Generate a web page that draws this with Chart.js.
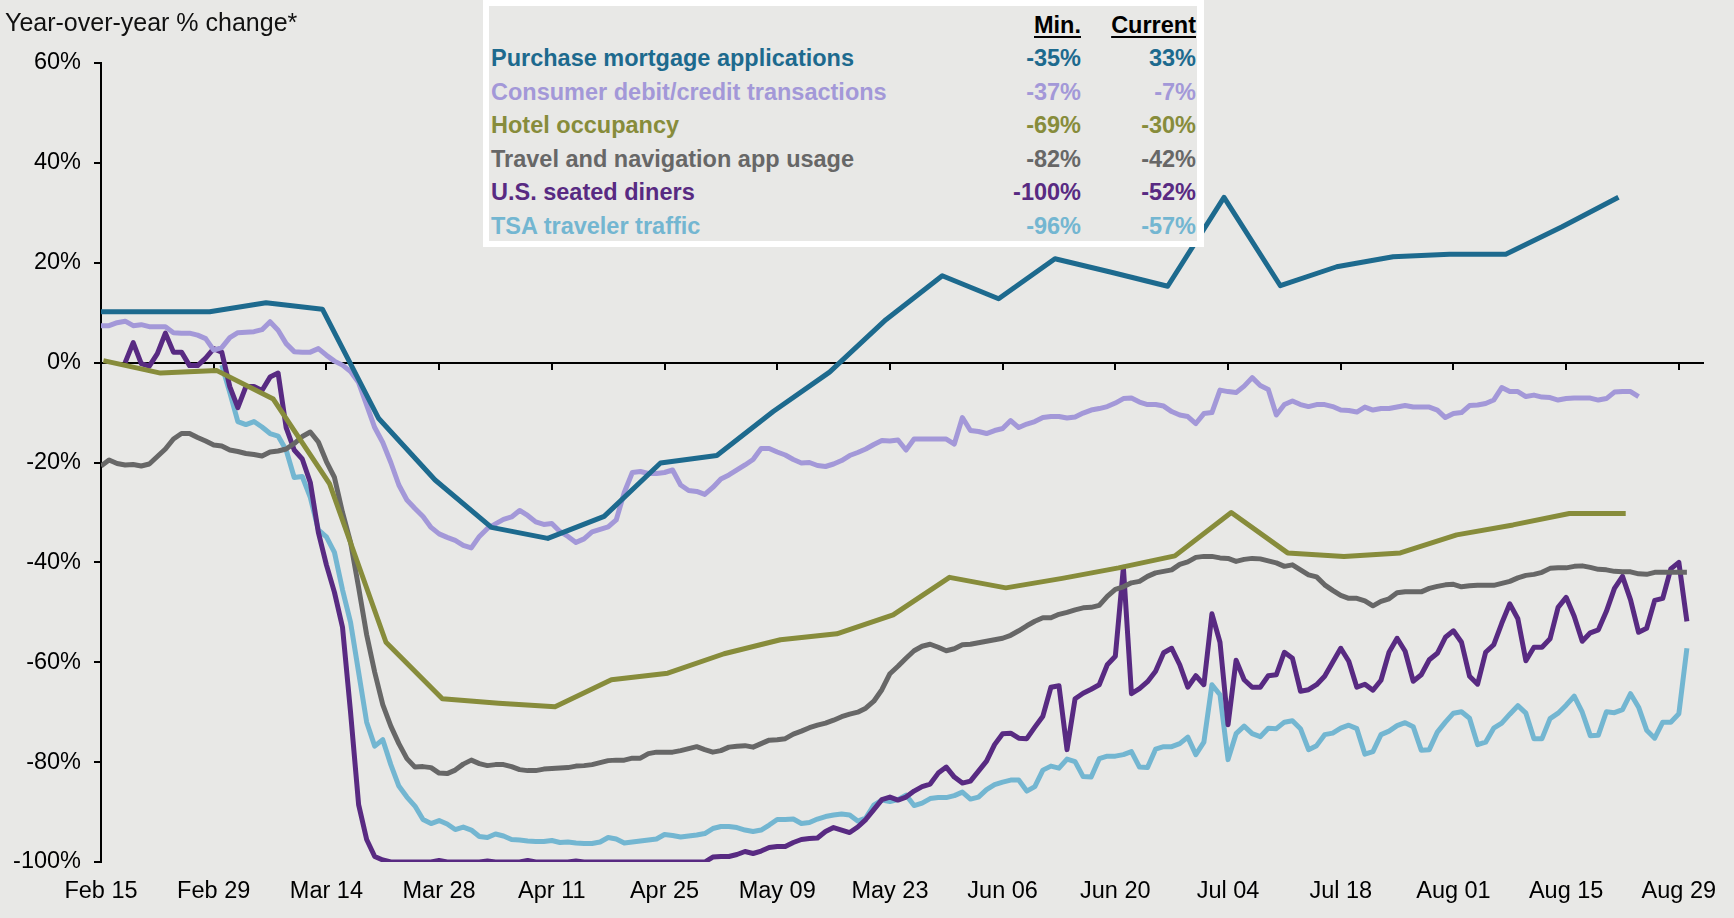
<!DOCTYPE html>
<html>
<head>
<meta charset="utf-8">
<script src="https://cdn.jsdelivr.net/npm/chart.js@4.4.1/dist/chart.umd.min.js"></script>
<style>
  html, body { margin: 0; padding: 0; background: #e8e8e6; }
  #wrap { position: relative; width: 1734px; height: 918px; overflow: hidden; }
  #chart { position: absolute; left: 0; top: 0; }
  #title { position: absolute; left: 5px; top: 8px; font: 25px 'Liberation Sans', Arial, sans-serif; color: #111; white-space: nowrap; }
  #legend { position: absolute; left: 483px; top: 0; width: 708px; height: 235px; border: 6px solid #fff; border-right-width: 7px; background: #e8e8e6; }
  .cell { position: absolute; height: 30px; line-height: 30px; font: bold 23.5px 'Liberation Sans', Arial, sans-serif; white-space: nowrap; }
  .num { text-align: right; width: 140px; }
  .head { color: #000; text-decoration: underline; text-decoration-thickness: 2px; text-underline-offset: 3px; }
</style>
</head>
<body>
<div id="wrap">
  <canvas id="chart" width="1734" height="918"></canvas>
  <div id="title">Year-over-year % change*</div>
  <div id="legend"></div>
</div>
<script>
// axis labels, every 14 days starting Feb 15
var tickLabels = ['Feb 15', 'Feb 29', 'Mar 14', 'Mar 28', 'Apr 11', 'Apr 25', 'May 09', 'May 23',
                  'Jun 06', 'Jun 20', 'Jul 04', 'Jul 18', 'Aug 01', 'Aug 15', 'Aug 29'];

var seriesNames = ['Purchase mortgage applications', 'Consumer debit/credit transactions', 'Hotel occupancy',
                   'Travel and navigation app usage', 'U.S. seated diners', 'TSA traveler traffic'];
var seriesColors = ['#1d6a8e', '#a398d8', '#878c3b', '#676767', '#582a82', '#73b6d1'];
var minLabels = ['-35%', '-37%', '-69%', '-82%', '-100%', '-96%'];
var currentLabels = ['33%', '-7%', '-30%', '-42%', '-52%', '-57%'];

// weekly series: x = days after Feb 15
var mortgageDays = [0, 6.5, 13.5, 20.5, 27.5, 34.5, 41.5, 48.5, 55.5, 62.5, 69.5, 76.5, 83.5, 90.5,
                    97.5, 104.5, 111.5, 118.5, 125.5, 132.5, 139.5, 146.5, 153.5, 160.5, 167.5, 174.5, 181.5, 188.5];
var mortgageVals = [10.2, 10.2, 10.2, 12.0, 10.7, -11.2, -23.5, -33, -35.2, -30.8, -20.1, -18.6, -9.8, -1.9,
                    8.6, 17.4, 12.8, 20.8, 18.1, 15.3, 33.1, 15.4, 19.2, 21.2, 21.7, 21.7, 27.2, 33.1];

var hotelDays = [0.3, 7.4, 14.4, 21.4, 28.4, 35.4, 42.4, 49.4, 56.4, 63.4, 70.4, 77.4, 84.4, 91.4,
                 98.4, 105.4, 112.4, 119.4, 126.4, 133.4, 140.4, 147.4, 154.4, 161.4, 168.4, 175.4, 182.4, 189.4];
var hotelVals = [0.4, -2.1, -1.6, -7.3, -24.3, -56, -67.3, -68.2, -68.9, -63.5, -62.2, -58.3, -55.5, -54.3,
                 -50.5, -43, -45.1, -43.2, -41.1, -38.7, -30.0, -38.1, -38.8, -38.1, -34.5, -32.5, -30.2, -30.2];

// daily series, first value at the start day
var consumerStart = 0;
var consumerVals = [
  7.4, 7.4, 8.0, 8.3, 7.4, 7.6, 7.2, 7.2, 7.2, 6.0,
  5.9, 5.9, 5.5, 4.8, 2.5, 3.0, 5.0, 6.0, 6.1, 6.2,
  6.6, 8.2, 6.5, 3.8, 2.2, 2.1, 2.1, 2.8, 1.5, 0.3,
  -0.5, -1.8, -4.0, -8.5, -13, -16, -20, -24.5, -27.5, -29.2,
  -30.8, -33, -34.3, -35, -35.6, -36.6, -37.1, -34.8, -33.2, -32.3,
  -31.4, -30.9, -29.6, -30.6, -31.9, -32.4, -32.2, -33.8, -34.8, -36.0,
  -35.3, -33.9, -33.4, -32.9, -31.5, -26, -22, -21.8, -22.2, -22.2,
  -22, -21.5, -24.5, -25.6, -25.8, -26.4, -25, -23.3, -22.5, -21.5,
  -20.5, -19.4, -17.2, -17.2, -17.9, -18.5, -19.4, -20.1, -20, -20.6,
  -20.8, -20.3, -19.6, -18.6, -18, -17.3, -16.4, -15.6, -15.7, -15.5,
  -17.5, -15.3, -15.3, -15.3, -15.3, -15.3, -16.3, -11, -13.6, -13.8,
  -14.2, -13.6, -13.2, -11.6, -13, -12.3, -11.8, -11, -10.8, -10.8,
  -11.1, -10.9, -10.1, -9.5, -9.2, -8.8, -8.1, -7.2, -7.1, -7.9,
  -8.4, -8.4, -8.7, -9.8, -10.5, -10.8, -12.2, -10.2, -10, -5.5,
  -5.8, -6, -4.7, -3, -4.6, -5.4, -10.5, -8.4, -7.7, -8.4,
  -8.8, -8.4, -8.4, -8.8, -9.5, -9.6, -9.9, -8.9, -9.5, -9.2,
  -9.2, -8.9, -8.6, -8.9, -8.9, -8.9, -9.5, -11, -10.2, -10,
  -8.6, -8.5, -8.2, -7.5, -5, -5.8, -5.8, -6.8, -6.5, -6.9,
  -7, -7.5, -7.2, -7.1, -7.1, -7.1, -7.5, -7.2, -5.9, -5.8,
  -5.8, -6.8
];

var travelStart = 0;
var travelVals = [
  -20.7, -19.5, -20.2, -20.5, -20.4, -20.7, -20.3, -18.8, -17.3, -15.3,
  -14.2, -14.2, -15, -15.7, -16.5, -16.7, -17.5, -17.8, -18.2, -18.4,
  -18.7, -17.9, -17.7, -17.3, -16.2, -14.8, -13.9, -15.9, -19.8, -23,
  -30, -36, -45, -54.5, -62, -68.5, -72.8, -76.3, -79.3, -81,
  -80.9, -81.1, -82.2, -82.3, -81.6, -80.4, -79.6, -80.3, -80.7, -80.5,
  -80.5, -80.9, -81.5, -81.7, -81.7, -81.4, -81.3, -81.2, -81.1, -80.8,
  -80.7, -80.5, -80.1, -79.7, -79.6, -79.6, -79.2, -79.2, -78.3, -78,
  -78, -78, -77.7, -77.3, -76.9, -77.5, -78, -77.7, -77, -76.8,
  -76.7, -77, -76.3, -75.6, -75.5, -75.3, -74.4, -73.8, -73.1, -72.6,
  -72.2, -71.6, -70.9, -70.4, -70, -69.2, -67.8, -65.5, -62.3, -60.8,
  -59.2, -57.7, -56.8, -56.4, -57, -57.7, -57.3, -56.5, -56.4, -56.1,
  -55.8, -55.5, -55.2, -54.6, -53.7, -52.7, -51.8, -51.1, -51.1, -50.4,
  -50, -49.5, -49.1, -49, -48.6, -46.8, -45.4, -44.9, -44.1, -43.8,
  -42.8, -42.1, -41.8, -41.5, -40.4, -39.9, -39, -38.8, -38.8, -39.1,
  -39.2, -39.8, -39.4, -39.2, -39.3, -39.7, -40.1, -40.8, -40.5, -41.5,
  -42.5, -42.9, -44.5, -45.6, -46.6, -47.2, -47.2, -47.7, -48.7, -47.8,
  -47.3, -46.1, -45.9, -45.9, -45.9, -45.2, -44.8, -44.5, -44.4, -44.9,
  -44.7, -44.6, -44.6, -44.6, -44.2, -43.8, -43.1, -42.6, -42.4, -42,
  -41.2, -41.1, -41.1, -40.8, -40.7, -41, -41.4, -41.5, -41.8, -41.9,
  -41.9, -42.3, -42.4, -42, -42, -42, -42, -42
];

var dinersStart = 3;
var dinersVals = [
  0, 4, -0.2, -0.7, 1.8, 5.9, 2.1, 2.1, -0.6, -0.6,
  0.9, 2.8, 2.1, -4.8, -9, -4.8, -4.8, -5.6, -2.9, -2.1,
  -13, -17.5, -19.3, -24, -34, -40.5, -46, -53, -70, -88.5,
  -95.5, -98.9, -99.6, -100, -100, -100, -100, -100, -100, -99.7,
  -100, -100, -100, -100, -100, -99.8, -100, -100, -100, -100,
  -99.7, -100, -100, -100, -100, -100, -99.8, -100, -100, -100,
  -100, -100, -100, -100, -100, -100, -100, -100, -100, -100,
  -100, -100, -100, -99, -98.9, -98.9, -98.5, -97.9, -98.3, -97.8,
  -97.1, -96.9, -96.9, -96.1, -95.5, -95.3, -95.2, -93.9, -93.1, -93.6,
  -94.1, -93, -91.5, -89.5, -87.5, -87, -87.6, -87, -85.8, -84.9,
  -84.4, -82.2, -81, -83, -84.2, -83.8, -81.8, -79.8, -76.5, -74.3,
  -74.2, -75.2, -75.3, -73, -70.8, -65, -64.7, -77.5, -67.3, -66.2,
  -65.4, -64.5, -60.5, -58.8, -41, -66.3, -65.3, -63.9, -61.8, -58.1,
  -57.2, -60.5, -65, -62.7, -64.5, -50.3, -56, -72.5, -59.6, -63.5,
  -65, -65, -62.7, -62.5, -58, -59.2, -65.8, -65.5, -64.5, -62.8,
  -60, -57.2, -59.8, -65, -64.4, -65.6, -63.6, -58, -55.2, -57.8,
  -63.8, -62.5, -59.5, -58.2, -55, -53.7, -56, -62.8, -64.4, -58,
  -56.5, -52.2, -48.3, -51.3, -59.7, -57, -57, -55.3, -49, -47,
  -50.8, -55.8, -54.1, -53.5, -49.8, -45.2, -42.8, -47.5, -54, -53.2,
  -47.6, -47.2, -41.3, -40, -51.8
];

var tsaStart = 15;
var tsaVals = [
  -0.5, -6, -11.8, -12.4, -11.8, -12.9, -14.2, -14.7, -17.5, -23,
  -22.8, -27, -33.5, -34.9, -38, -45.5, -52, -62, -72, -76.8,
  -75.5, -80.5, -84.8, -87, -88.8, -91.5, -92.3, -91.7, -92.4, -93.5,
  -93, -93.6, -94.9, -95.1, -94.4, -94.8, -95.5, -95.6, -95.8, -95.9,
  -95.9, -95.7, -96.1, -96, -96.2, -96.3, -96.3, -96, -95.1, -95.4,
  -96.2, -96, -95.8, -95.6, -95.4, -94.5, -94.7, -95, -94.8, -94.6,
  -94.3, -93.3, -92.9, -92.9, -93.1, -93.6, -93.9, -93.6, -92.6, -91.5,
  -91.5, -91.4, -92.3, -92.1, -91.4, -90.9, -90.6, -90.4, -90.6, -91.8,
  -91.2, -88.6, -87.6, -87.9, -87.5, -86.6, -88.7, -88.2, -87.3, -87.1,
  -87.1, -86.7, -86, -87.4, -87, -85.5, -84.5, -84, -83.6, -83.6,
  -85.8, -84.9, -81.6, -80.8, -81.2, -79.4, -79.9, -82.9, -83, -79.3,
  -78.8, -78.8, -78.5, -77.9, -81, -81.1, -77.4, -76.9, -76.9, -76.3,
  -75, -78.5, -76, -64.5, -66.5, -79.5, -74.3, -72.8, -74.3, -74.9,
  -73.2, -73.3, -72, -71.7, -73.3, -77.5, -76.7, -74.5, -74.2, -73.2,
  -72.6, -73.3, -78.4, -77.9, -74.5, -73.8, -72.7, -72.1, -72.9, -77.6,
  -77.5, -74, -72, -70.2, -69.9, -71.2, -76.5, -76, -73.2, -72.2,
  -70.4, -68.7, -70.2, -75.3, -75.3, -71.3, -70.2, -68.6, -66.8, -70,
  -74.7, -74.6, -69.9, -70.1, -69.5, -66.3, -69, -73.6, -75.2, -72,
  -72, -70.3, -57.2
];

var fontFamily = "'Liberation Sans', Arial, sans-serif";

function daily(start, vals) {
  return vals.map(function(v, i) { return { x: start + i, y: v }; });
}
function dated(days, vals) {
  return vals.map(function(v, i) { return { x: days[i], y: v }; });
}

var seriesData = [
  dated(mortgageDays, mortgageVals),
  daily(consumerStart, consumerVals),
  dated(hotelDays, hotelVals),
  daily(travelStart, travelVals),
  daily(dinersStart, dinersVals),
  daily(tsaStart, tsaVals)
];

var datasets = seriesData.map(function(d, i) {
  return {
    label: seriesNames[i],
    data: d,
    borderColor: seriesColors[i],
    backgroundColor: seriesColors[i],
    borderWidth: 5,
    pointRadius: 0,
    fill: false,
    tension: 0,
    borderJoinStyle: 'round',
    xAxisID: 'x',
    yAxisID: 'y'
  };
});

var lineChart = new Chart(document.getElementById('chart'), {
  type: 'line',
  data: { datasets: datasets },
  options: {
    responsive: false,
    animation: false,
    devicePixelRatio: 1,
    layout: { padding: { top: 63, right: 31, left: 0, bottom: 0 } },
    plugins: { legend: { display: false }, tooltip: { enabled: false } },
    scales: {
      x: {
        type: 'linear', position: 'bottom', min: 0, max: 199,
        afterFit: function(s) { s.height = 56; },
        grid: { display: false, drawTicks: false },
        border: { display: false },
        ticks: {
          stepSize: 14, includeBounds: false, autoSkip: false, maxRotation: 0, padding: 15,
          color: '#000', font: { family: fontFamily, size: 23.5 },
          callback: function(v) { return tickLabels[Math.round(v / 14)]; }
        }
      },
      // axis line at 0% with tick marks pointing down
      xZero: {
        type: 'linear', axis: 'x', position: { y: 0 }, min: 0, max: 199,
        ticks: { display: false, stepSize: 14, includeBounds: false },
        grid: { drawOnChartArea: false, tickLength: 6, color: '#000', lineWidth: 2 },
        border: { color: '#000', width: 2 }
      },
      y: {
        type: 'linear', position: 'left', min: -100, max: 60,
        afterFit: function(s) { s.width = 101; },
        grid: { drawOnChartArea: false, tickLength: 7, color: '#000', lineWidth: 2 },
        border: { color: '#000', width: 2 },
        ticks: {
          stepSize: 20, padding: 13, color: '#000', font: { family: fontFamily, size: 23.5 },
          callback: function(v) { return v + '%'; }
        }
      }
    }
  }
});

// legend table (Min. / Current)
var legend = document.getElementById('legend');
var baseTop = 5.5, rowStep = 33.5;
function addCell(text, left, top, cls, color) {
  var el = document.createElement('div');
  el.className = 'cell ' + cls;
  el.textContent = text;
  el.style.left = left + 'px';
  el.style.top = top + 'px';
  if (color) el.style.color = color;
  legend.appendChild(el);
}
addCell('Min.', 452, baseTop, 'num head');
addCell('Current', 567, baseTop, 'num head');
seriesNames.forEach(function(name, i) {
  var top = baseTop + rowStep * (i + 1);
  addCell(name, 2, top, '', seriesColors[i]);
  addCell(minLabels[i], 452, top, 'num', seriesColors[i]);
  addCell(currentLabels[i], 567, top, 'num', seriesColors[i]);
});
</script>
</body>
</html>
